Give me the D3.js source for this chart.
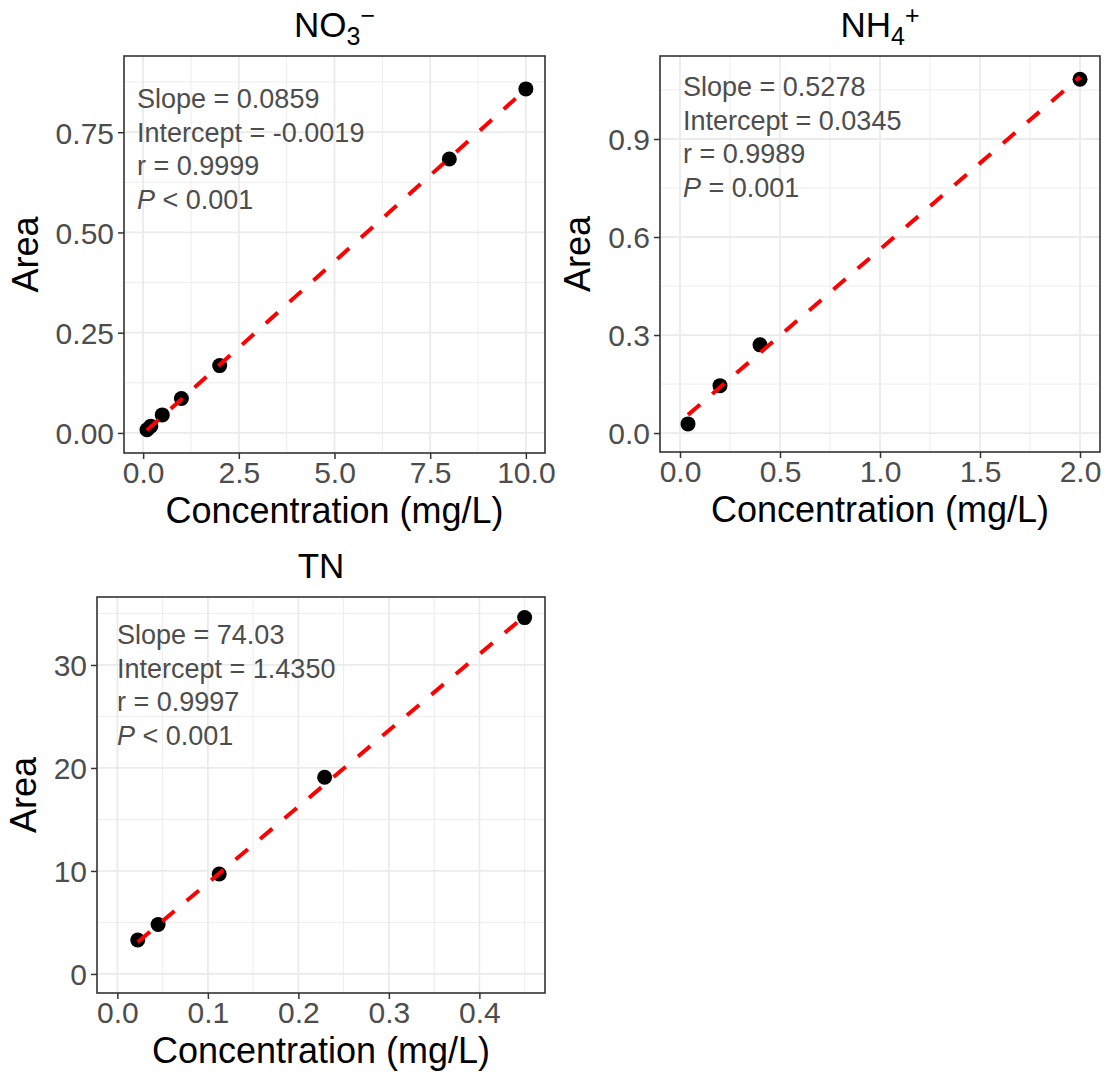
<!DOCTYPE html>
<html><head><meta charset="utf-8">
<script src="https://cdn.jsdelivr.net/npm/d3@7"></script>
<style>
body{margin:0;background:#fff}
text{font-family:"Liberation Sans",Arial,Helvetica,sans-serif}
</style>
</head><body>
<svg id="chart" width="1109" height="1075"></svg>
<script>
// ---------------- data ----------------
const panelIds = ["NO3", "NH4", "TN"];

const no3Conc = [0.1, 0.2, 0.5, 1, 2, 8, 10];
const no3Area = [0.008, 0.017, 0.045, 0.086, 0.168, 0.683, 0.858];

const nh4Conc = [0.04, 0.2, 0.4, 2];
const nh4Area = [0.028, 0.145, 0.27, 1.083];

const tnConc = [0.0225, 0.045, 0.1125, 0.229, 0.45];
const tnArea = [3.3, 4.8, 9.7, 19.1, 34.6];

const slopes = [0.0859, 0.5278, 74.03];
const intercepts = [-0.0019, 0.0345, 1.4350];
const slopeLabels = ["0.0859", "0.5278", "74.03"];
const interceptLabels = ["-0.0019", "0.0345", "1.4350"];
const rLabels = ["0.9999", "0.9989", "0.9997"];
const pLabels = ["< 0.001", "= 0.001", "< 0.001"];

const no3XTicks = [0, 2.5, 5, 7.5, 10];
const no3XTickLabels = ["0.0", "2.5", "5.0", "7.5", "10.0"];
const no3YTicks = [0, 0.25, 0.5, 0.75];
const no3YTickLabels = ["0.00", "0.25", "0.50", "0.75"];

const nh4XTicks = [0, 0.5, 1, 1.5, 2];
const nh4XTickLabels = ["0.0", "0.5", "1.0", "1.5", "2.0"];
const nh4YTicks = [0, 0.3, 0.6, 0.9];
const nh4YTickLabels = ["0.0", "0.3", "0.6", "0.9"];

const tnXTicks = [0, 0.1, 0.2, 0.3, 0.4];
const tnXTickLabels = ["0.0", "0.1", "0.2", "0.3", "0.4"];
const tnYTicks = [0, 10, 20, 30];
const tnYTickLabels = ["0", "10", "20", "30"];

const xTitle = "Concentration (mg/L)";
const yTitle = "Area";

// ---------------- layout (pixels) ----------------
const layouts = [
  {left:124, top:56, width:421, height:397, xDom:[-0.5,10.5], yDom:[-0.05,0.94], annX:13, annY:52},
  {left:660, top:56, width:440, height:396, xDom:[-0.1,2.1], yDom:[-0.058,1.154], annX:23, annY:40},
  {left:97, top:597, width:448, height:396, xDom:[-0.0225,0.4725], yDom:[-1.85,36.6], annX:20, annY:47}
];

const panels = [
  {x:no3Conc, y:no3Area, xt:no3XTicks, xtl:no3XTickLabels, yt:no3YTicks, ytl:no3YTickLabels},
  {x:nh4Conc, y:nh4Area, xt:nh4XTicks, xtl:nh4XTickLabels, yt:nh4YTicks, ytl:nh4YTickLabels},
  {x:tnConc, y:tnArea, xt:tnXTicks, xtl:tnXTickLabels, yt:tnYTicks, ytl:tnYTickLabels}
];

const svg = d3.select("#chart");
const GRID = "#EBEBEB", AXIS = "#333333", TICKTXT = "#4D4D4D";

function midpoints(ticks, dom) {
  const step = ticks[1] - ticks[0];
  const out = [];
  for (let v = ticks[0] - step / 2; v <= dom[1]; v += step) {
    if (v >= dom[0]) out.push(v);
  }
  return out;
}

panels.forEach((p, i) => {
  const L = layouts[i];
  const g = svg.append("g").attr("transform", `translate(${L.left},${L.top})`);
  const x = d3.scaleLinear().domain(L.xDom).range([0, L.width]);
  const y = d3.scaleLinear().domain(L.yDom).range([L.height, 0]);

  // minor grid
  midpoints(p.xt, L.xDom).forEach(v => {
    g.append("line").attr("x1", x(v)).attr("x2", x(v)).attr("y1", 0).attr("y2", L.height)
      .attr("stroke", GRID).attr("stroke-width", 0.9);
  });
  midpoints(p.yt, L.yDom).forEach(v => {
    g.append("line").attr("y1", y(v)).attr("y2", y(v)).attr("x1", 0).attr("x2", L.width)
      .attr("stroke", GRID).attr("stroke-width", 0.9);
  });
  // major grid
  p.xt.forEach(v => {
    g.append("line").attr("x1", x(v)).attr("x2", x(v)).attr("y1", 0).attr("y2", L.height)
      .attr("stroke", GRID).attr("stroke-width", 1.8);
  });
  p.yt.forEach(v => {
    g.append("line").attr("y1", y(v)).attr("y2", y(v)).attr("x1", 0).attr("x2", L.width)
      .attr("stroke", GRID).attr("stroke-width", 1.8);
  });

  // axes
  const xa = g.append("g").attr("transform", `translate(0,${L.height})`)
    .call(d3.axisBottom(x).tickValues(p.xt).tickFormat((d, k) => p.xtl[k]).tickSizeOuter(0).tickSize(6).tickPadding(4));
  const ya = g.append("g")
    .call(d3.axisLeft(y).tickValues(p.yt).tickFormat((d, k) => p.ytl[k]).tickSizeOuter(0).tickSize(6).tickPadding(4));
  [xa, ya].forEach(a => {
    a.select(".domain").remove();
    a.selectAll(".tick line").attr("stroke", AXIS).attr("stroke-width", 1.5);
    a.selectAll(".tick text").attr("fill", TICKTXT).style("font-size", "30px")
      .style("font-family", '"Liberation Sans",Arial,sans-serif');
  });
  xa.selectAll(".tick text").attr("dy", null).attr("y", 30);
  ya.selectAll(".tick text").attr("dy", "0.36em");

  // points
  g.selectAll("circle.pt").data(p.x.map((v, k) => [v, p.y[k]])).enter().append("circle")
    .attr("cx", d => x(d[0])).attr("cy", d => y(d[1])).attr("r", 7.5).attr("fill", "#000");

  // regression line
  const x0 = d3.min(p.x), x1 = d3.max(p.x);
  g.append("line")
    .attr("x1", x(x0)).attr("y1", y(slopes[i] * x0 + intercepts[i]))
    .attr("x2", x(x1)).attr("y2", y(slopes[i] * x1 + intercepts[i]))
    .attr("stroke", "#FF0000").attr("stroke-width", 4).attr("stroke-dasharray", "16,16");

  // border
  g.append("rect").attr("x", 0).attr("y", 0).attr("width", L.width).attr("height", L.height)
    .attr("fill", "none").attr("stroke", AXIS).attr("stroke-width", 1.6);

  // annotation
  const ann = g.append("text").attr("x", L.annX).attr("y", L.annY)
    .attr("fill", TICKTXT).style("font-size", "27px");
  const lh = 33.6;
  ann.append("tspan").attr("x", L.annX).attr("y", L.annY).text("Slope = " + slopeLabels[i]);
  ann.append("tspan").attr("x", L.annX).attr("y", L.annY + lh).text("Intercept = " + interceptLabels[i]);
  ann.append("tspan").attr("x", L.annX).attr("y", L.annY + 2 * lh).text("r = " + rLabels[i]);
  ann.append("tspan").attr("x", L.annX).attr("y", L.annY + 3 * lh).style("font-style", "italic").text("P");
  ann.append("tspan").text(" " + pLabels[i]);

  // axis titles
  g.append("text").attr("x", L.width / 2).attr("y", L.height + 70).attr("text-anchor", "middle")
    .style("font-size", "36px").attr("fill", "#000").text(xTitle);
  let maxW = 0;
  ya.selectAll(".tick text").each(function () { maxW = Math.max(maxW, this.getComputedTextLength()); });
  g.append("text").attr("transform", `translate(${-10 - maxW - 18},${L.height / 2}) rotate(-90)`)
    .attr("text-anchor", "middle").style("font-size", "36px").attr("fill", "#000").text(yTitle);

  // panel title
  const t = g.append("text").attr("x", L.width / 2).attr("y", -19).attr("text-anchor", "middle")
    .style("font-size", "35px").attr("fill", "#000");
  if (i === 0) {
    t.append("tspan").text("NO");
    t.append("tspan").attr("dy", 8).style("font-size", "25px").text("3");
    t.append("tspan").attr("dy", -21).style("font-size", "25px").text("\u2212");
  } else if (i === 1) {
    t.append("tspan").text("NH");
    t.append("tspan").attr("dy", 8).style("font-size", "25px").text("4");
    t.append("tspan").attr("dy", -21).style("font-size", "25px").text("+");
  } else {
    t.text("TN");
  }
});
</script>
</body></html>
